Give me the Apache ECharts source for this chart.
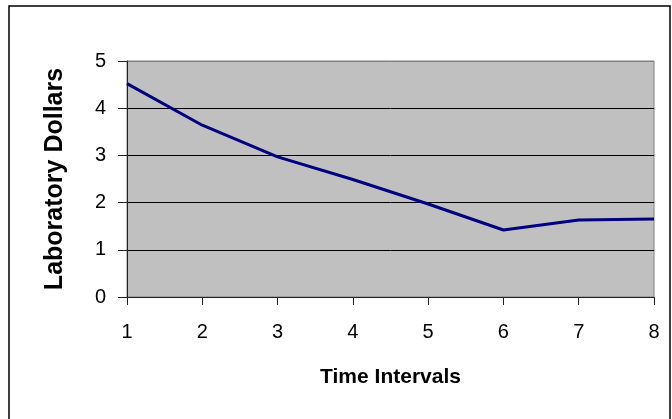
<!DOCTYPE html>
<html>
<head>
<meta charset="utf-8">
<script src="https://cdn.jsdelivr.net/npm/echarts@6/dist/echarts.min.js"></script>
<style>
html,body{margin:0;padding:0;background:#fff;}
#chart{width:672px;height:419px;}
</style>
</head>
<body>
<div id="chart"></div>
<script>
const categories = ['1','2','3','4','5','6','7','8'];
const labDollars = [4.52, 3.64, 2.97, 2.49, 1.97, 1.42, 1.63, 1.65];
const yTicks = [0, 1, 2, 3, 4, 5];

const chart = echarts.init(document.getElementById('chart'), null, {renderer: 'canvas'});
const font = 'Liberation Sans, Arial, sans-serif';
chart.setOption({
  animation: false,
  graphic: [{
    type: 'rect',
    shape: {x: 9, y: 6, width: 661, height: 430},
    style: {fill: 'none', stroke: '#000', lineWidth: 1.5},
    silent: true
  }],
  grid: {
    left: 127, right: 18, top: 61, bottom: 122,
    show: true, backgroundColor: '#c0c0c0', borderColor: '#808080', borderWidth: 1
  },
  xAxis: {
    type: 'category',
    data: categories,
    boundaryGap: false,
    name: 'Time Intervals',
    nameLocation: 'middle',
    nameGap: 70,
    nameTextStyle: {fontFamily: font, fontSize: 21, fontWeight: 'bold', color: '#000'},
    axisLine: {lineStyle: {color: '#222', width: 1}},
    axisTick: {alignWithLabel: true, length: 8, lineStyle: {color: '#222'}},
    axisLabel: {fontFamily: font, fontSize: 20, color: '#000', margin: 25},
    splitLine: {show: false}
  },
  yAxis: {
    type: 'value',
    min: yTicks[0], max: yTicks[yTicks.length - 1], interval: 1,
    name: 'Laboratory Dollars',
    nameLocation: 'middle',
    nameGap: 59,
    nameTextStyle: {fontFamily: font, fontSize: 25, fontWeight: 'bold', color: '#000'},
    axisLine: {show: true, lineStyle: {color: '#222', width: 1}},
    axisTick: {show: true, length: 9, lineStyle: {color: '#222'}},
    axisLabel: {fontFamily: font, fontSize: 20, color: '#000', margin: 21},
    splitLine: {show: true, lineStyle: {color: ['#000','#000','#000','#000','#000','#808080'], width: 1}}
  },
  series: [{
    type: 'line',
    data: labDollars,
    showSymbol: false,
    symbol: 'none',
    lineStyle: {color: '#000080', width: 3},
    itemStyle: {color: '#000080'}
  }]
});
</script>
</body>
</html>
